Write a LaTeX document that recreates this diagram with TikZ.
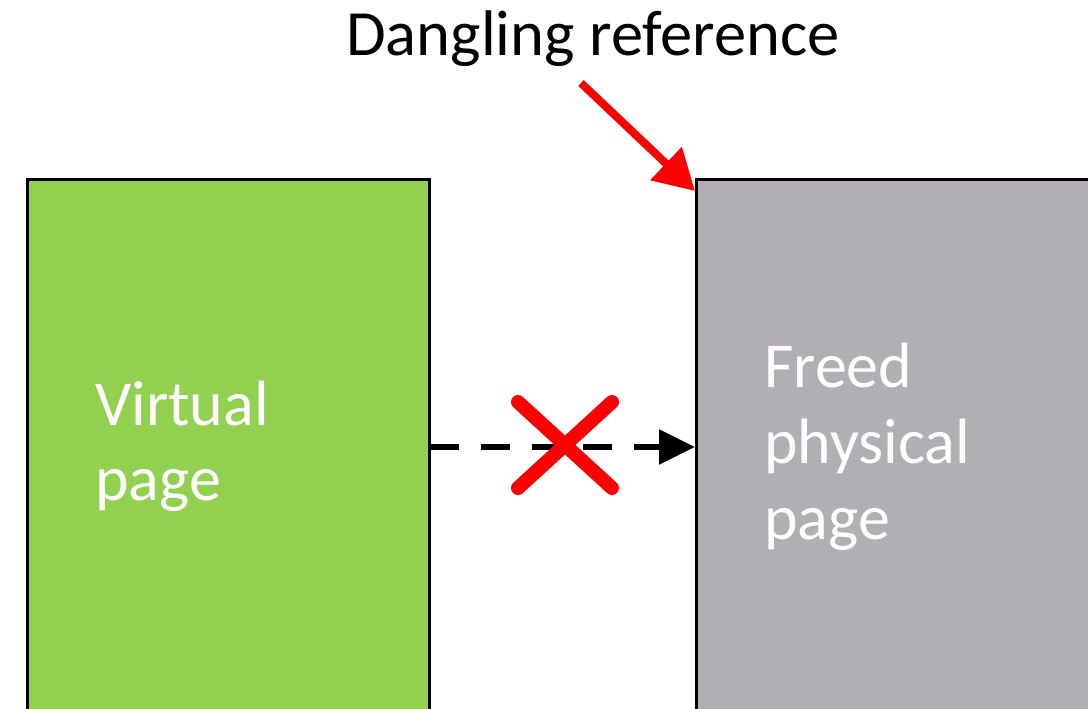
\documentclass[tikz,border=0pt]{standalone}
\usepackage{fontspec}
\setmainfont{Carlito}
\usetikzlibrary{arrows.meta}
\definecolor{pagegreen}{HTML}{92D050}
\definecolor{pagegray}{HTML}{B1AFB3}
\definecolor{xred}{HTML}{FF0000}
\begin{document}
\begin{tikzpicture}[x=1pt,y=-1pt,
  pagebox/.style={draw=black,line width=3pt},
  pagetext/.style={text=white,font=\fontsize{64}{76}\selectfont,anchor=base west,inner sep=0pt},
  redarrow/.style={draw=xred,line width=8pt,-{Triangle[length=40pt,width=44pt]}},
  ptrarrow/.style={draw=black,line width=6pt,dash pattern=on 29pt off 22pt,-{Triangle[length=36pt,width=34pt]}},
  crossline/.style={draw=xred,line width=14pt,line cap=round}]
\useasboundingbox (0,0) rectangle (1088,709);
\fill[white] (0,0) rectangle (1088,709);
\draw[pagebox,fill=pagegreen] (27,179) rectangle (429,740);
\draw[pagebox,fill=pagegray] (696,179) rectangle (1120,740);
\node[pagetext] (v1) at (95,425) {Virtual};
\node[pagetext] (v2) at (95,500) {page};
\node[pagetext] (f1) at (764,387) {Freed};
\node[pagetext] (f2) at (764,463) {physical};
\node[pagetext] (f3) at (764,539) {page};
\node[font=\fontsize{64.5}{76}\selectfont,anchor=base,inner sep=0pt] (title) at (593,56) {Dangling reference};
\coordinate (ptrstart) at (430,447);
\coordinate (ptrend) at (695,447);
\draw[ptrarrow] (ptrstart) -- (ptrend);
\coordinate (rastart) at (581,83);
\coordinate (raend) at (695,191);
\draw[redarrow] (rastart) -- (raend);
\coordinate (xa) at (518,402);
\coordinate (xb) at (612,488);
\coordinate (xc) at (612,402);
\coordinate (xd) at (518,488);
\draw[crossline] (xa) -- (xb);
\draw[crossline] (xc) -- (xd);
\end{tikzpicture}
\end{document}
